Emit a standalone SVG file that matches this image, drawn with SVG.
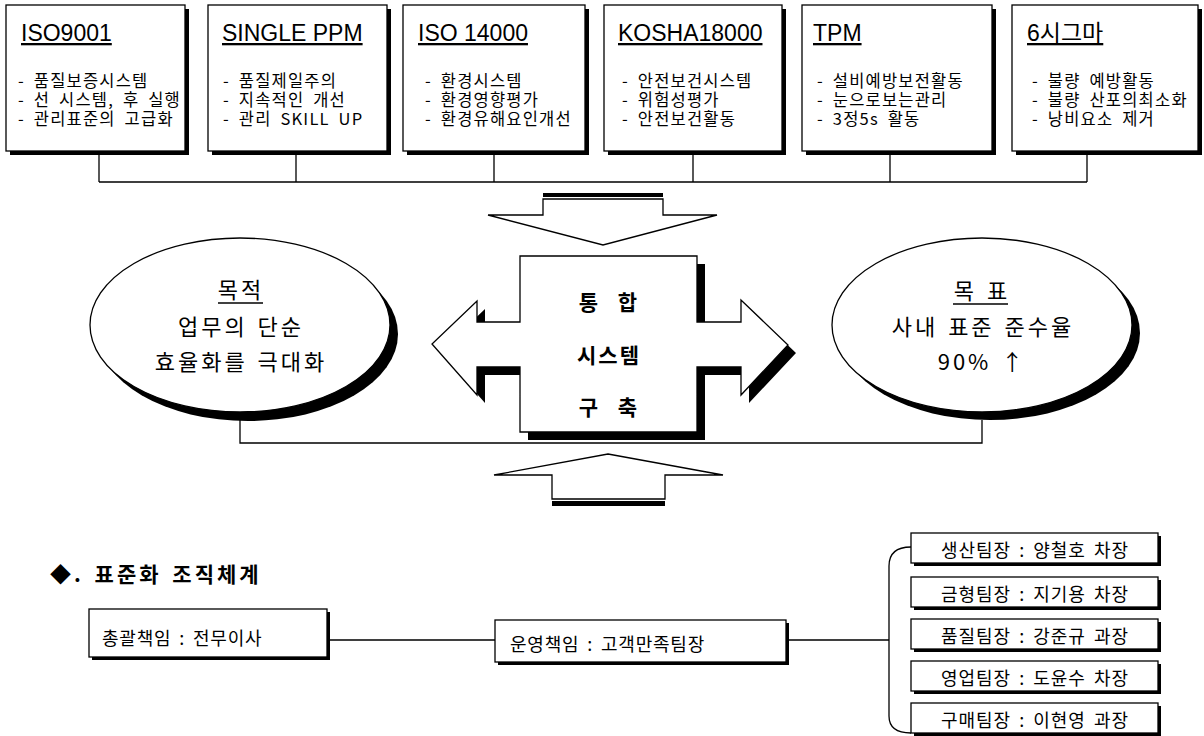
<svg xmlns="http://www.w3.org/2000/svg" width="1204" height="736" viewBox="0 0 1204 736">
<style>
.bx{fill:#fff;stroke:#000;stroke-width:1.3}
.sh{fill:#000}
.ln{fill:none;stroke:#000;stroke-width:1.3}
.ttl{font-family:"Liberation Sans","Noto Sans CJK KR",sans-serif;font-size:23px;text-decoration:underline;fill:#000}
.bul{font-family:"Noto Sans CJK KR",sans-serif;font-size:16.5px;letter-spacing:1.2px;word-spacing:4px;fill:#000}
.ell{font-family:"Noto Sans CJK KR",sans-serif;font-size:22px;letter-spacing:3px;word-spacing:2px;text-anchor:middle;fill:#000}
.ctr{font-family:"Noto Sans CJK KR",sans-serif;font-size:21px;font-weight:bold;text-anchor:middle;fill:#000}
.org{font-family:"Noto Sans CJK KR",sans-serif;font-size:18px;letter-spacing:0.8px;word-spacing:3px;fill:#000}
.team{font-family:"Noto Sans CJK KR",sans-serif;font-size:18px;letter-spacing:1px;word-spacing:3px;text-anchor:middle;fill:#000}
.hd{font-family:"Noto Sans CJK KR",sans-serif;font-size:21px;font-weight:bold;letter-spacing:3px;word-spacing:3px;fill:#000}
</style>
<rect width="1204" height="736" fill="#fff"/>

<g id="connectors">
<path class="ln" d="M99,151 V182 M296,151 V182 M494,151 V182 M693,151 V182 M890,151 V182 M1087,151 V182 M99,182 H1087"/>
<path class="ln" d="M240,420 V443 H982 V420"/>
<path class="ln" d="M327,640 H495 M786,640 H889"/>
<path class="ln" d="M911,547 Q889,547 889,566 V716 Q889,733 911,733"/>
</g>

<g id="iso9001">
<rect class="sh" x="10" y="9" width="179" height="146"/>
<rect class="bx" x="6" y="5" width="179" height="146"/>
<text class="ttl" x="21" y="41">ISO9001</text>
<text class="bul"><tspan x="18" y="87">- 품질보증시스템</tspan><tspan x="18" y="106">- 선 시스템, 후 실행</tspan><tspan x="18" y="125">- 관리표준의 고급화</tspan></text>
</g>
<g id="singleppm">
<rect class="sh" x="212" y="9" width="179" height="146"/>
<rect class="bx" x="208" y="5" width="179" height="146"/>
<text class="ttl" x="222" y="41">SINGLE PPM</text>
<text class="bul"><tspan x="223" y="87">- 품질제일주의</tspan><tspan x="223" y="106">- 지속적인 개선</tspan><tspan x="223" y="125">- 관리 SKILL UP</tspan></text>
</g>
<g id="iso14000">
<rect class="sh" x="407" y="9" width="182" height="146"/>
<rect class="bx" x="403" y="5" width="182" height="146"/>
<text class="ttl" x="418" y="41">ISO 14000</text>
<text class="bul"><tspan x="425" y="87">- 환경시스템</tspan><tspan x="425" y="106">- 환경영향평가</tspan><tspan x="425" y="125">- 환경유해요인개선</tspan></text>
</g>
<g id="kosha18000">
<rect class="sh" x="608" y="9" width="178" height="146"/>
<rect class="bx" x="604" y="5" width="178" height="146"/>
<text class="ttl" x="618" y="41">KOSHA18000</text>
<text class="bul"><tspan x="622" y="87">- 안전보건시스템</tspan><tspan x="622" y="106">- 위험성평가</tspan><tspan x="622" y="125">- 안전보건활동</tspan></text>
</g>
<g id="tpm">
<rect class="sh" x="806" y="9" width="190" height="146"/>
<rect class="bx" x="802" y="5" width="190" height="146"/>
<text class="ttl" x="813" y="41">TPM</text>
<text class="bul"><tspan x="817" y="87">- 설비예방보전활동</tspan><tspan x="817" y="106">- 눈으로보는관리</tspan><tspan x="817" y="125">- 3정5s 활동</tspan></text>
</g>
<g id="sixsigma">
<rect class="sh" x="1016" y="9" width="186" height="146"/>
<rect class="bx" x="1012" y="5" width="186" height="146"/>
<text class="ttl" x="1027" y="41">6시그마</text>
<text class="bul"><tspan x="1032" y="87">- 불량 예방활동</tspan><tspan x="1032" y="106">- 불량 산포의최소화</tspan><tspan x="1032" y="125">- 낭비요소 제거</tspan></text>
</g>

<g id="arrow-down">
<rect class="sh" x="543" y="193" width="120" height="4"/>
<polygon class="bx" points="543,199 663,199 663,215 717,215 603,245 488,215 543,215"/>
</g>
<g id="arrow-up">
<rect class="sh" x="552" y="501" width="113" height="5"/>
<polygon class="bx" points="608,454 723,475 665,475 665,499 552,499 552,475 494,475"/>
</g>

<g id="purpose">
<ellipse class="sh" cx="248" cy="334" rx="150" ry="87"/>
<ellipse class="bx" cx="240" cy="325" rx="150" ry="87"/>
<text class="ell" x="241" y="298">목적</text>
<line class="ln" x1="218" y1="303" x2="263" y2="303"/>
<text class="ell" x="241" y="335">업무의 단순</text>
<text class="ell" x="241" y="370">효율화를 극대화</text>
</g>

<g id="goal">
<ellipse class="sh" cx="990" cy="333" rx="150" ry="87"/>
<ellipse class="bx" cx="982" cy="325" rx="150" ry="87"/>
<text class="ell" x="982" y="299">목 표</text>
<line class="ln" x1="953" y1="304" x2="1008" y2="304"/>
<text class="ell" x="983" y="335">사내 표준 준수율</text>
<text class="ell" x="982" y="370">90% ↑</text>
</g>

<g id="integration">
<polygon class="sh" points="528,264 705,264 705,330 749,330 749,308 796,353 749,403 749,375 705,375 705,440 528,440 528,375 485,375 485,403 440,352 485,309 485,330 528,330"/>
<polygon class="bx" points="520,256 697,256 697,322 741,322 741,300 788,345 741,395 741,367 697,367 697,432 520,432 520,367 477,367 477,395 432,344 477,301 477,322 520,322"/>
<text class="ctr" x="608" y="310" style="word-spacing:15px">통 합</text>
<text class="ctr" x="609" y="363" style="letter-spacing:2px">시스템</text>
<text class="ctr" x="608" y="415" style="word-spacing:15px">구 축</text>
</g>

<g id="heading">
<text class="hd" x="50" y="582">◆. 표준화 조직체계</text>
</g>

<g id="chief">
<rect class="sh" x="92" y="612" width="238" height="48"/>
<rect class="bx" x="89" y="609" width="238" height="48"/>
<text class="org" x="102" y="645">총괄책임 : 전무이사</text>
</g>
<g id="operation">
<rect class="sh" x="498" y="623" width="291" height="42"/>
<rect class="bx" x="495" y="620" width="291" height="42"/>
<text class="org" x="510" y="651">운영책임 : 고객만족팀장</text>
</g>

<g id="team-production">
<rect class="sh" x="914" y="536" width="247" height="30"/>
<rect class="bx" x="911" y="533" width="247" height="30"/>
<text class="team" x="1035" y="557">생산팀장 : 양철호 차장</text>
</g>
<g id="team-mold">
<rect class="sh" x="914" y="580" width="247" height="30"/>
<rect class="bx" x="911" y="577" width="247" height="30"/>
<text class="team" x="1035" y="601">금형팀장 : 지기용 차장</text>
</g>
<g id="team-quality">
<rect class="sh" x="914" y="622" width="247" height="30"/>
<rect class="bx" x="911" y="619" width="247" height="30"/>
<text class="team" x="1035" y="643">품질팀장 : 강준규 과장</text>
</g>
<g id="team-sales">
<rect class="sh" x="914" y="664" width="247" height="30"/>
<rect class="bx" x="911" y="661" width="247" height="30"/>
<text class="team" x="1035" y="685">영업팀장 : 도윤수 차장</text>
</g>
<g id="team-purchase">
<rect class="sh" x="914" y="706" width="247" height="30"/>
<rect class="bx" x="911" y="703" width="247" height="30"/>
<text class="team" x="1035" y="727">구매팀장 : 이현영 과장</text>
</g>
</svg>
